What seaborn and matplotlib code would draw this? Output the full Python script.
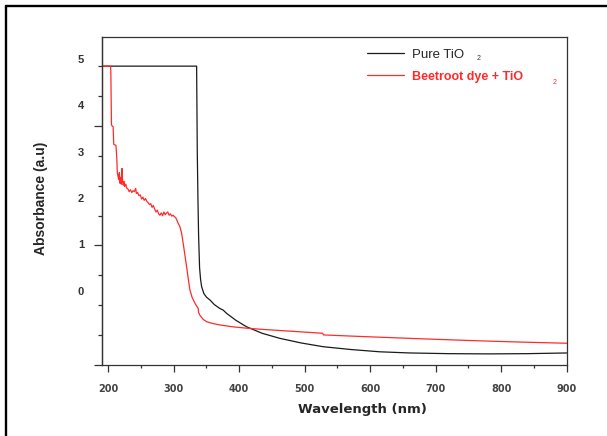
import matplotlib
matplotlib.use('Agg')
from matplotlib import pyplot as plt
from matplotlib.lines import Line2D
import seaborn as sns
import pandas as pd
import numpy as np

# Pure TiO2 spectrum (wavelength nm, absorbance a.u.)
pure_nm = [191, 335, 336, 337, 338, 339.5, 341, 342.6, 346, 350, 355.3, 362, 370,
           375.6, 380.8, 395, 411.3, 435, 462.2, 495, 528.3, 570, 614.9, 660,
           720, 780, 840, 900]
pure_abs = [4.85, 4.85, 3.0, 2.0, 1.2, 0.5, 0.25, 0.09, -0.06, -0.14, -0.20, -0.30,
            -0.38, -0.42, -0.49, -0.64, -0.78, -0.92, -1.03, -1.13, -1.21, -1.27,
            -1.32, -1.345, -1.36, -1.365, -1.36, -1.345]

# Beetroot dye + TiO2 spectrum
beet_nm = [191, 203.5, 204, 205, 206, 207.5, 208.5, 210, 211.8, 213, 214, 216, 217,
           218, 219, 220, 221, 222, 223, 224, 225, 227, 228, 230, 232, 234, 236, 238,
           240, 242, 243, 245, 247, 249, 251, 253, 255, 257, 259, 261, 263, 265, 267,
           269, 271, 273, 275, 277, 279, 281, 283, 285, 287, 289, 291, 293, 295, 297,
           299, 301, 303, 305, 307, 309.5, 312, 314.5, 317, 319.7, 322, 324.7, 328,
           332.4, 335, 337.4, 338, 340, 345, 350.3, 360, 370.6, 390, 411.3, 435,
           462.2, 495, 527.5, 528.5, 570, 614.9, 680, 760, 830, 900]
beet_abs = [4.85, 4.85, 4.75, 3.58, 3.56, 3.54, 3.16, 3.15, 3.14, 2.9, 2.54, 2.40, 2.55,
            2.32, 2.45, 2.30, 2.64, 2.35, 2.28, 2.36, 2.25, 2.30, 2.22, 2.20, 2.14, 2.18,
            2.12, 2.16, 2.14, 2.21, 2.10, 2.12, 2.05, 2.07, 1.98, 2.02, 1.95, 1.99, 1.93,
            1.90, 1.86, 1.88, 1.80, 1.84, 1.76, 1.70, 1.74, 1.66, 1.63, 1.68, 1.62, 1.70,
            1.64, 1.68, 1.70, 1.63, 1.66, 1.61, 1.63, 1.60, 1.58, 1.52, 1.45, 1.38, 1.25,
            1.02, 0.78, 0.52, 0.28, 0.02, -0.14, -0.27, -0.33, -0.38, -0.47, -0.53,
            -0.62, -0.67, -0.71, -0.74, -0.78, -0.81, -0.835, -0.86, -0.89, -0.92,
            -0.955, -0.98, -1.005, -1.04, -1.08, -1.11, -1.135]

x_ticks = [200, 300, 400, 500, 600, 700, 800, 900]
y_labels = ['0', '1', '2', '3', '4', '5']
series_names = ['Pure TiO', 'Beetroot dye + TiO']
series_colors = ['#1a1a1a', '#ff2a2a']

df = pd.concat([
    pd.DataFrame({'Wavelength': pure_nm, 'Absorbance': pure_abs, 'Sample': series_names[0]}),
    pd.DataFrame({'Wavelength': beet_nm, 'Absorbance': beet_abs, 'Sample': series_names[1]}),
])

sns.set_style('ticks')
plt.rcParams['font.family'] = ['Liberation Sans', 'DejaVu Sans']

W, H = 607, 436
fig = plt.figure(figsize=(W / 100, H / 100), dpi=100)
ax = fig.add_axes([102.3 / W, 1 - 365 / H, 464.4 / W, 328.3 / H])

sns.lineplot(data=df, x='Wavelength', y='Absorbance', hue='Sample', units='Sample',
             estimator=None, sort=False, palette=series_colors, linewidth=0.9, ax=ax,
             legend=False)

ax.set_xlim(191, 900)
ax.set_ylim(-1.605, 5.486)

for s in ax.spines.values():
    s.set_visible(True)
    s.set_linewidth(0.9)
    s.set_color('#333333')

# x axis
ax.set_xticks(x_ticks)
ax.set_xticklabels([str(t) for t in x_ticks], fontsize=7, fontweight='bold',
                   color='#444444', family='DejaVu Sans')
ax.set_xticks([t + 50 for t in x_ticks[:-1]], minor=True)
ax.tick_params(axis='x', which='major', direction='out', length=5, width=0.9,
               pad=8.5, color='#333333')
ax.tick_params(axis='x', which='minor', direction='out', length=2.4, width=0.9,
               color='#333333')

# y axis: labels are offset from the tick marks in the original
step = 0.6458
marks = [-1.605 + k * step for k in range(11)]
ax.set_yticks([float(v) for v in y_labels])
ax.set_yticklabels(y_labels, fontsize=8, fontweight='bold', color='#333333')
ax.tick_params(axis='y', which='major', length=0, pad=13)
ax.set_yticks([m for i, m in enumerate(marks) if i % 4 != 0], minor=True)
ax.tick_params(axis='y', which='minor', direction='out', length=3, width=0.9,
               color='#333333')
sec = ax.secondary_yaxis('left')
sec.set_yticks([m for i, m in enumerate(marks) if i % 4 == 0])
sec.set_yticklabels([])
sec.tick_params(axis='y', length=5.8, width=0.9, color='#333333')
sec.spines['left'].set_color('#333333')
sec.spines['left'].set_linewidth(0.9)

ax.set_xlabel('Wavelength (nm)', fontsize=9.5, fontweight='bold', family='DejaVu Sans')
ax.xaxis.set_label_coords(0.560, -0.116)
ax.set_ylabel('Absorbance (a.u)', fontsize=10, fontweight='bold')
ax.yaxis.set_label_coords(-0.118, 0.509)

# legend
handles = [Line2D([], [], color=c, linewidth=0.9) for c in series_colors]
leg = ax.legend(handles, series_names, loc='upper left', bbox_to_anchor=(0.555, 0.984),
                frameon=False, borderpad=0, handlelength=2.8, handletextpad=0.6,
                labelspacing=0.75, fontsize=9.5)
texts = leg.get_texts()
texts[1].set_color(series_colors[1])
texts[1].set_fontweight('bold')
texts[1].set_fontsize(9)
fig.text(479 / W, 1 - 58.3 / H, '2', fontsize=5, color='#333333', ha='center', va='center')
fig.text(555 / W, 1 - 82.7 / H, '2', fontsize=5, color=series_colors[1], ha='center',
         va='center')

# outer frame (only top and left edges visible in the crop)
fig.add_artist(Line2D([6.3 / W, 6.3 / W], [0, 1 - 5.7 / H], transform=fig.transFigure,
                      color='black', linewidth=1.7))
fig.add_artist(Line2D([6.3 / W, 1], [1 - 5.7 / H, 1 - 5.7 / H], transform=fig.transFigure,
                      color='black', linewidth=1.7))

fig.savefig('out.png', dpi=100)
